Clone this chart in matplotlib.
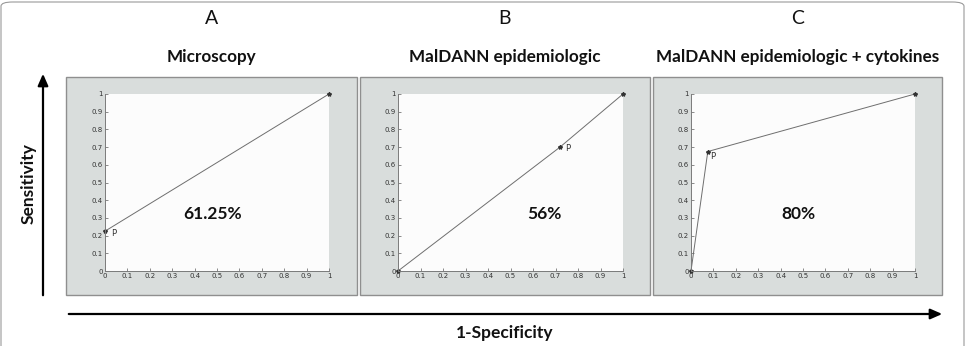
import matplotlib
matplotlib.use("Agg")
import matplotlib.pyplot as plt
from matplotlib.patches import Rectangle, FancyBboxPatch, FancyArrowPatch

W, H = 976, 346

letters = ["A", "B", "C"]
titles = ["Microscopy", "MalDANN epidemiologic", "MalDANN epidemiologic + cytokines"]
auc_labels = ["61.25%", "56%", "80%"]

# ROC points (1-specificity, sensitivity)
fpr_a = [0.0, 1.0]
tpr_a = [0.225, 1.0]
fpr_b = [0.0, 0.72, 1.0]
tpr_b = [0.0, 0.70, 1.0]
fpr_c = [0.0, 0.075, 1.0]
tpr_c = [0.0, 0.675, 1.0]
p_points = [(0.0, 0.225), (0.72, 0.70), (0.075, 0.675)]

ticks = [i / 10 for i in range(11)]
tick_labels = ["0"] + [f"{t:.1f}" for t in ticks[1:-1]] + ["1"]

# panel boxes and axes, pixel coords (left, right, top, bottom)
panel_px = [(66, 357, 77, 295), (360, 650, 77, 295), (653, 942, 77, 295)]
axes_px = [(105, 329, 94, 271), (398, 623, 94, 271), (691, 915, 94, 271)]
p_offsets = [(0.027, -0.015), (0.022, -0.01), (0.012, -0.03)]
auc_pos = [(0.48, 0.32), (0.65, 0.32), (0.48, 0.32)]


def fx(x):
    return x / W


def fy(y):
    return 1 - y / H


fig = plt.figure(figsize=(W / 100, H / 100), dpi=100)
fig.patch.set_facecolor("white")

# outer rounded frame
frame = FancyBboxPatch((fx(1), fy(370)), fx(963), (370 - 2) / H,
                       boxstyle="round,pad=0,rounding_size=0.012",
                       transform=fig.transFigure, fill=False,
                       edgecolor="#9a9a9a", lw=0.8, clip_on=False, zorder=-2)
fig.patches.append(frame)

series = [(fpr_a, tpr_a), (fpr_b, tpr_b), (fpr_c, tpr_c)]
for i in range(3):
    l, r, t, b = panel_px[i]
    fig.patches.append(Rectangle((fx(l), fy(b)), (r - l) / W, (b - t) / H,
                                 transform=fig.transFigure, facecolor="#d9dddc",
                                 edgecolor="#8f8f8f", lw=1.0, zorder=-1))
    cx = (l + r) / 2
    fig.text(fx(cx), fy(18), letters[i], ha="center", va="center",
             fontsize=14, family="Lato", color="#111111")
    fig.text(fx(cx), fy(57), titles[i], ha="center", va="center",
             fontsize=12.3, family="Lato", weight="bold", color="#111111")

    al, ar, at, ab = axes_px[i]
    ax = fig.add_axes([fx(al), fy(ab), (ar - al) / W, (ab - at) / H])
    ax.set_facecolor("#fcfcfc")
    xs, ys = series[i]
    ax.plot(xs, ys, color="#6e6e6e", lw=0.7, marker="*", markersize=3,
            markerfacecolor="#333333", markeredgecolor="#333333", clip_on=False)
    px, py = p_points[i]
    dx, dy = p_offsets[i]
    ax.text(px + dx, py + dy, "P", fontsize=6, color="#333333",
            ha="left", va="center", family="DejaVu Sans")
    ax.text(auc_pos[i][0], auc_pos[i][1], auc_labels[i], fontsize=12.5,
            family="Lato", weight="bold", ha="center", va="center",
            color="#111111")
    ax.set_xlim(0, 1)
    ax.set_ylim(0, 1)
    ax.set_xticks(ticks)
    ax.set_yticks(ticks)
    ax.set_xticklabels(tick_labels)
    ax.set_yticklabels(tick_labels)
    ax.tick_params(direction="in", length=2, width=0.6, colors="#777777",
                   labelsize=5, labelcolor="#333333", pad=1.5)
    for s in ("top", "right"):
        ax.spines[s].set_visible(False)
    for s in ("left", "bottom"):
        ax.spines[s].set_color("#7a7a7a")
        ax.spines[s].set_linewidth(0.7)

# axis arrows
fig.patches.append(FancyArrowPatch((fx(43), fy(298)), (fx(43), fy(71)),
                                   transform=fig.transFigure,
                                   arrowstyle="-|>,head_length=0.5,head_width=0.22",
                                   mutation_scale=14, color="black", lw=1.6))
fig.patches.append(FancyArrowPatch((fx(66), fy(314)), (fx(945), fy(314)),
                                   transform=fig.transFigure,
                                   arrowstyle="-|>,head_length=0.5,head_width=0.22",
                                   mutation_scale=14, color="black", lw=1.6))

fig.text(fx(29), fy(184), "Sensitivity", rotation=90, ha="center", va="center",
         fontsize=12.5, family="Lato", weight="bold", color="#111111")
fig.text(fx(505), fy(333), "1-Specificity", ha="center", va="center",
         fontsize=12.5, family="Lato", weight="bold", color="#111111")

fig.savefig("out.png", dpi=100, facecolor="white")
